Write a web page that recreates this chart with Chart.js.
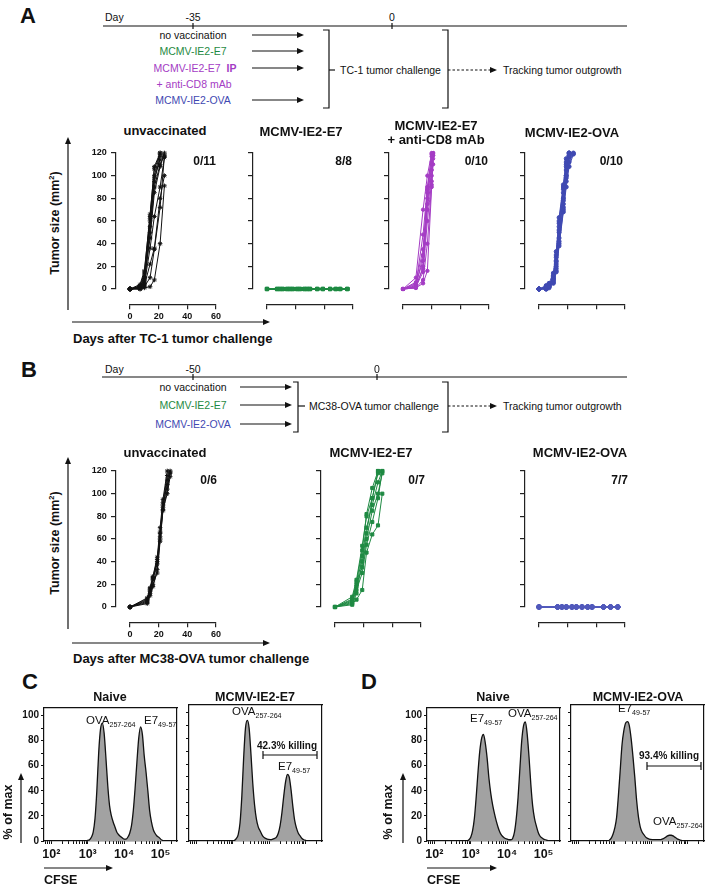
<!DOCTYPE html>
<html>
<head>
<meta charset="utf-8">
<script src="https://cdn.jsdelivr.net/npm/chart.js@4.4.1/dist/chart.umd.min.js"></script>
<style>
  body { margin: 0; background: #fff; }
  #fig { position: relative; width: 707px; height: 885px; overflow: hidden;
         font-family: 'Liberation Sans', Arial, Helvetica, sans-serif; color: #111; }
  .t { position: absolute; white-space: nowrap; line-height: 1; }
  .b { font-weight: bold; }
  canvas { position: absolute; }
  svg { position: absolute; left: 0; top: 0; }
  sub { font-size: 0.62em; vertical-align: -0.3em; }
</style>
</head>
<body>
<div id="fig"><svg id="ov" width="707" height="885"></svg></div>
<script>
// ---------- data ----------
const dayTicks = [0, 20, 40, 60];
const sizeTicks = [0, 20, 40, 60, 80, 100, 120];

// A: TC-1 challenge, tumor size (mm2) per mouse
const tc1UnvaxDays = [0, 7, 10, 14, 17, 21, 24];
const tc1Unvax = [
  [0, 2, 9, 62, 100, 120],
  [0, 3, 14, 66, 106, 119],
  [0, 1, 6, 55, 95, 117],
  [0, 2, 11, 60, 98, 114],
  [0, 4, 16, 64, 108, 120],
  [0, 1, 5, 50, 90, 110, 118],
  [0, 2, 8, 45, 85, 108, 120],
  [0, 1, 4, 36, 64, 90, 116],
  [0, 0, 3, 22, 36, 80, 100],
  [0, 0, 1, 2, 8, 40, 91],
  [0, 1, 2, 10, 35, 72, 117]
];
const tc1E7Days = [0, 7, 9, 11, 14, 16, 18, 21, 23, 26, 28, 30, 35, 39, 44, 48, 51, 56];
const tc1E7Mouse = [0, 0, 0, 0, 0, 0, 0, 0, 0, 0, 0, 0, 0, 0, 0, 0, 0, 0];
const tc1E7 = Array(8).fill(tc1E7Mouse);
const tc1Cd8Days = [0, 9, 14, 17, 20, 21];
const tc1Cd8 = [
  [0, 10, 70, 100, 120],
  [0, 4, 48, 90, 117],
  [0, 2, 30, 80, 110, 120],
  [0, 1, 20, 75, 105, 118],
  [0, 5, 25, 85, 112],
  [0, 3, 18, 70, 100, 118],
  [0, 2, 15, 60, 95, 115],
  [0, 1, 5, 16, 90, 120],
  [0, 1, 8, 40, 92, 110],
  [0, 6, 35, 88, 119]
];
const tc1OvaDays = [0, 5, 7, 10, 12, 14, 17, 19, 21, 24];
const tc1Ova = [
  [0, 1, 2, 8, 20, 45, 75, 100, 118],
  [0, 0, 3, 12, 30, 60, 90, 110, 120],
  [0, 2, 4, 10, 25, 50, 80, 105, 117],
  [0, 1, 2, 6, 18, 40, 70, 95, 112, 120],
  [0, 0, 1, 9, 22, 55, 85, 108, 120],
  [0, 3, 5, 14, 33, 63, 92, 115],
  [0, 1, 3, 7, 15, 38, 68, 90, 108, 119],
  [0, 2, 4, 11, 28, 52, 78, 100, 116],
  [0, 0, 2, 5, 16, 42, 72, 98, 118],
  [0, 1, 3, 9, 24, 58, 88, 112, 120]
];

// B: MC38-OVA challenge
const mcUnvaxDays = [0, 12, 14, 16, 19, 21, 23, 26, 28];
const mcUnvax = [
  [0, 5, 14, 24, 40, 62, 88, 112, 120],
  [0, 7, 16, 26, 42, 65, 90, 108, 118],
  [0, 4, 12, 20, 30, 58, 85, 104, 119],
  [0, 6, 15, 25, 38, 66, 92, 116],
  [0, 3, 10, 18, 33, 60, 86, 100, 115],
  [0, 8, 17, 27, 44, 70, 95, 120]
];
const mcE7Days = [0, 12, 15, 19, 22, 26, 30, 33];
const mcE7 = [
  [0, 9, 24, 54, 80, 96, 120],
  [0, 5, 18, 45, 70, 90, 110, 120],
  [0, 3, 6.5, 15, 48, 64, 72, 100],
  [0, 7, 22, 50, 82, 105, 120],
  [0, 2, 12, 40, 65, 96, 118],
  [0, 6, 20, 35, 60, 85, 100, 118],
  [0, 4, 15, 30, 55, 75, 96, 120]
];
const mcOvaDays = [0, 13, 16, 19, 23, 26, 30, 34, 37, 45, 50, 55];
const mcOvaMouse = [0, 0, 0, 0, 0, 0, 0, 0, 0, 0, 0, 0];
const mcOva = Array(7).fill(mcOvaMouse);

// C/D: CFSE histograms (log10 CFSE, % of max)
const cfseLog = [2.85, 2.90, 2.95, 3.00, 3.05, 3.10, 3.15, 3.20, 3.25, 3.30, 3.35, 3.40, 3.45,
  3.50, 3.55, 3.60, 3.65, 3.70, 3.75, 3.80, 3.85, 3.90, 3.95, 4.00, 4.05, 4.10, 4.15, 4.20,
  4.25, 4.30, 4.35, 4.40, 4.45, 4.50, 4.55, 4.60, 4.65, 4.70, 4.75, 4.80, 4.85, 4.90, 4.95,
  5.00, 5.05, 5.10, 5.15, 5.20, 5.25];
const cNaive = [0, 0, 0, 0.5, 1, 3, 7, 18, 40, 70, 89, 94, 86, 66, 44, 28, 20, 15, 11, 7,
  5, 3.5, 2.5, 1.5, 1.5, 3, 6, 12, 24, 42, 63, 82, 91, 85, 68, 55, 40, 24, 15, 9,
  6, 4, 3, 1.5, 0.5, 0, 0, 0, 0];
const cE7Vax = [0, 0, 0, 0, 0.5, 2, 5, 14, 35, 65, 88, 94, 88, 68, 45, 28, 17, 11, 8, 5,
  3, 2, 1.5, 1.2, 1, 1.5, 2, 3, 6, 12, 22, 35, 46, 52, 50, 40, 27, 16, 10, 6,
  4, 2, 1, 0.5, 0, 0, 0, 0, 0];
const dNaive = [0, 0, 1, 3, 8, 18, 35, 55, 72, 82, 85, 78, 66, 50, 38, 29, 22, 16, 11, 7,
  4.5, 3, 2, 1.5, 1, 1, 2, 7, 18, 35, 58, 80, 92, 95, 85, 67, 45, 28, 18, 12,
  7, 4, 2.5, 1.5, 1, 0.5, 0, 0, 0];
const dOvaVax = [0.5, 2, 5, 10, 18, 35, 55, 75, 86, 92, 93, 90, 80, 66, 50, 32, 19, 11, 7, 5,
  3, 2, 1.5, 1.2, 1, 1, 1, 1, 1, 1.5, 2, 3, 4, 4.5, 4.5, 4, 3, 2, 1.2, 0.7,
  0.3, 0, 0, 0, 0, 0, 0, 0, 0];
const decadeLabels = { 2: '10²', 3: '10³', 4: '10⁴', 5: '10⁵' };
const pctTicks = [0, 10, 20, 30, 40, 50, 60, 70, 80, 90, 100];
const pctLabels = [0, 20, 40, 60, 80, 100];

// ---------- helpers ----------
Chart.defaults.font.family = "'Liberation Sans', Arial, Helvetica, sans-serif";
const fig = document.getElementById('fig');
const ov = document.getElementById('ov');
const NS = 'http://www.w3.org/2000/svg';

function el(tag, attrs) {
  const e = document.createElementNS(NS, tag);
  for (const k in attrs) e.setAttribute(k, attrs[k]);
  ov.appendChild(e);
  return e;
}
function line(x1, y1, x2, y2, w = 1.2, dash) {
  const a = { x1, y1, x2, y2, stroke: '#111', 'stroke-width': w };
  if (dash) a['stroke-dasharray'] = dash;
  el('line', a);
}
function arrow(x1, y1, x2, y2, dash, hl = 7, hw = 3) {
  const dx = x2 - x1, dy = y2 - y1, L = Math.hypot(dx, dy), ux = dx / L, uy = dy / L;
  const bx = x2 - ux * hl, by = y2 - uy * hl;
  line(x1, y1, bx + ux, by + uy, 1.2, dash);
  el('polygon', { points: `${x2},${y2} ${bx - uy * hw},${by + ux * hw} ${bx + uy * hw},${by - ux * hw}`, fill: '#111' });
}
function path(d, w = 1.2) {
  el('path', { d, fill: 'none', stroke: '#111', 'stroke-width': w });
}
function txt(html, x, y, style = '', align = 'l', cls = '') {
  const d = document.createElement('div');
  d.className = 't ' + cls;
  d.innerHTML = html;
  const tx = align === 'c' ? '-50%' : align === 'r' ? '-100%' : '0';
  d.style.cssText = `left:${x}px;top:${y}px;transform:translate(${tx},-50%);${style}`;
  fig.appendChild(d);
  return d;
}
function vtxt(html, x, y, style = '') {
  const d = document.createElement('div');
  d.className = 't b';
  d.innerHTML = html;
  d.style.cssText = `left:${x}px;top:${y}px;transform:translate(-50%,-50%) rotate(-90deg);${style}`;
  fig.appendChild(d);
}
function makeCanvas(left, top, w, h) {
  const c = document.createElement('canvas');
  c.width = w; c.height = h;
  c.style.left = left + 'px'; c.style.top = top + 'px';
  c.style.width = w + 'px'; c.style.height = h + 'px';
  fig.appendChild(c);
  return c;
}

// tumor growth chart, Prism style (detached axes)
function tumorChart(x0, yTop, days, mice, color, style, radius, showLabels) {
  const c = makeCanvas(x0 - 45, yTop - 13, 156, 190);
  new Chart(c, {
    type: 'line',
    data: {
      datasets: mice.map(m => ({
        data: m.map((v, i) => ({ x: days[i], y: v })),
        borderColor: color,
        backgroundColor: color,
        borderWidth: 1,
        pointStyle: style,
        pointRadius: radius,
        pointBorderWidth: 1,
        tension: 0,
        clip: false
      }))
    },
    options: {
      responsive: false,
      animation: false,
      devicePixelRatio: 1,
      layout: { padding: { left: 45, right: 25, top: 13, bottom: 41 } },
      plugins: { legend: { display: false }, tooltip: { enabled: false } },
      scales: {
        x: {
          type: 'linear', min: 0, max: 60, position: { y: -14 },
          afterBuildTicks: s => { s.ticks = dayTicks.map(v => ({ value: v })); },
          border: { color: '#222', width: 1.2 },
          grid: { drawOnChartArea: false, tickLength: 4, color: '#222', lineWidth: 1.2 },
          ticks: { display: showLabels, padding: 2, color: '#111', maxRotation: 0,
                   font: { size: 9, weight: 'bold' } }
        },
        y: {
          type: 'linear', min: 0, max: 120, position: { x: -10 },
          afterBuildTicks: s => { s.ticks = sizeTicks.map(v => ({ value: v })); },
          border: { color: '#222', width: 1.2 },
          grid: { drawOnChartArea: false, tickLength: 4, color: '#222', lineWidth: 1.2 },
          ticks: { display: showLabels, color: '#111', font: { size: 9, weight: 'bold' },
                   callback: v => v + '\u2002\u2002' }
        }
      }
    }
  });
}

// CFSE histogram in a closed box
function histChart(boxLeft, values, showY, showX) {
  const c = makeCanvas(boxLeft - 40, 700, 176, 162);
  new Chart(c, {
    type: 'line',
    data: {
      datasets: [{
        data: cfseLog.map((x, i) => ({ x, y: values[i] })),
        fill: 'origin',
        backgroundColor: '#a2a2a2',
        borderColor: '#111',
        borderWidth: 1.3,
        pointRadius: 0,
        cubicInterpolationMode: 'monotone'
      }]
    },
    options: {
      responsive: false,
      animation: false,
      devicePixelRatio: 1,
      layout: { padding: 0 },
      plugins: { legend: { display: false }, tooltip: { enabled: false } },
      scales: {
        x: {
          type: 'linear', position: 'bottom', min: 1.8, max: 5.45,
          afterFit: s => { s.height = 21; },
          afterBuildTicks: s => {
            const t = [];
            for (let d = 1; d <= 5; d++) for (let k = 1; k <= 9; k++) {
              const v = d + Math.log10(k);
              if (v >= 1.8 && v <= 5.45) t.push({ value: k === 1 ? d : v });
            }
            s.ticks = t;
          },
          border: { color: '#111', width: 1.2 },
          grid: { drawOnChartArea: false, tickLength: 3, color: '#111' },
          ticks: { display: showX, autoSkip: false, maxRotation: 0, padding: 3, color: '#111',
                   font: { size: 12.5, weight: 'bold' }, callback: v => decadeLabels[v] || '' }
        },
        y: {
          type: 'linear', position: 'left', min: 0, max: 106,
          afterFit: s => { s.width = 40; },
          afterBuildTicks: s => { s.ticks = pctTicks.map(v => ({ value: v })); },
          border: { color: '#111', width: 1.2 },
          grid: { drawOnChartArea: false, tickLength: 3, color: '#111' },
          ticks: { display: showY, autoSkip: false, padding: 2, color: '#111',
                   font: { size: 10, weight: 'bold' },
                   callback: v => pctLabels.includes(v) ? v : '' }
        },
        x2: {
          type: 'linear', position: 'top', afterFit: s => { s.height = 5; },
          grid: { display: false }, ticks: { display: false },
          border: { color: '#111', width: 1.2 }
        },
        y2: {
          type: 'linear', position: 'right', afterFit: s => { s.width = 3; },
          grid: { display: false }, ticks: { display: false },
          border: { color: '#111', width: 1.2 }
        }
      }
    }
  });
}

// ---------- colours ----------
const GREEN = '#1f8a43', MAG = '#a43cc4', BLUE = '#3f49b2', BLUE_B = '#5159bb';

// ---------- panel A schema ----------
txt('A', 20, 16, 'font-size:22px', 'l', 'b');
const S = 'font-size:10.5px';
txt('Day', 105, 17, S);
txt('-35', 193, 17, S, 'c');
txt('0', 392, 17, S, 'c');
line(103, 26, 627, 26);
line(193, 23, 193, 29); line(392, 23, 392, 29);
txt('no vaccination', 193, 35, S, 'c');
txt('MCMV-IE2-E7', 193, 51, S + ';color:' + GREEN, 'c');
txt('MCMV-IE2-E7&nbsp;&nbsp;<b>IP</b>', 195, 68, S + ';color:' + MAG, 'c');
txt('+ anti-CD8 mAb', 194, 84, S + ';color:' + MAG, 'c');
txt('MCMV-IE2-OVA', 193, 100, S + ';color:' + BLUE, 'c');
[35, 51, 68, 100].forEach(y => arrow(252, y, 304, y));
path('M323,30 H329 V108 H323'); line(329, 70, 335, 70);
txt('TC-1 tumor challenge', 340, 70, S);
path('M442,30 H448 V108 H442');
arrow(448, 70, 497, 70, '2.5,2');
txt('Tracking tumor outgrowth', 503, 70, S);

// ---------- panel A charts ----------
tumorChart(130, 153, tc1UnvaxDays, tc1Unvax, '#111', 'star', 2.3, true);
tumorChart(267, 153, tc1E7Days, tc1E7, GREEN, 'rect', 2.2, false);
tumorChart(403, 153, tc1Cd8Days, tc1Cd8, MAG, 'circle', 1.7, false);
tumorChart(539, 153, tc1OvaDays, tc1Ova, BLUE, 'circle', 2, false);

const TT = 'font-size:13px';
txt('unvaccinated', 165, 130, TT, 'c', 'b');
txt('MCMV-IE2-E7', 301, 131, TT, 'c', 'b');
txt('MCMV-IE2-E7', 436, 125, TT, 'c', 'b');
txt('+ anti-CD8 mAb', 436, 139, TT, 'c', 'b');
txt('MCMV-IE2-OVA', 572, 132, TT, 'c', 'b');
const FR = 'font-size:12px';
txt('0/11', 216, 161, FR, 'r', 'b');
txt('8/8', 352, 161, FR, 'r', 'b');
txt('0/10', 488, 161, FR, 'r', 'b');
txt('0/10', 623, 161, FR, 'r', 'b');
vtxt('Tumor size (mm<sup style="font-size:0.6em">2</sup>)', 55, 223, 'font-size:12.5px');
arrow(68, 310, 68, 137);
arrow(72, 322, 270, 322);
txt('Days after TC-1 tumor challenge', 73, 338, TT, 'l', 'b');

// ---------- panel B schema ----------
txt('B', 21, 370, 'font-size:22px', 'l', 'b');
txt('Day', 105, 369, S);
txt('-50', 193, 369, S, 'c');
txt('0', 377, 369, S, 'c');
line(102, 377, 627, 377);
line(193, 374, 193, 380); line(377, 374, 377, 380);
txt('no vaccination', 193, 387, S, 'c');
txt('MCMV-IE2-E7', 193, 405, S + ';color:' + GREEN, 'c');
txt('MCMV-IE2-OVA', 193, 424, S + ';color:' + BLUE, 'c');
[387, 405, 424].forEach(y => arrow(240, y, 292, y));
path('M293,382 H298 V432 H293'); line(298, 406, 305, 406);
txt('MC38-OVA tumor challenge', 309, 406, S);
path('M442,382 H448 V432 H442');
arrow(448, 406, 497, 406, '2.5,2');
txt('Tracking tumor outgrowth', 503, 406, S);

// ---------- panel B charts ----------
tumorChart(130, 471, mcUnvaxDays, mcUnvax, '#111', 'star', 2.3, true);
tumorChart(335, 471, mcE7Days, mcE7, GREEN, 'rect', 2.2, false);
tumorChart(539, 471, mcOvaDays, mcOva, BLUE_B, 'circle', 2.2, false);

txt('unvaccinated', 165, 452, TT, 'c', 'b');
txt('MCMV-IE2-E7', 371, 452, TT, 'c', 'b');
txt('MCMV-IE2-OVA', 580, 452, TT, 'c', 'b');
txt('0/6', 217, 480, FR, 'r', 'b');
txt('0/7', 425, 480, FR, 'r', 'b');
txt('7/7', 628, 480, FR, 'r', 'b');
vtxt('Tumor size (mm<sup style="font-size:0.6em">2</sup>)', 55, 543, 'font-size:12.5px');
arrow(68, 629, 68, 457);
arrow(72, 643, 270, 643);
txt('Days after MC38-OVA tumor challenge', 73, 658, TT, 'l', 'b');

// ---------- panels C and D ----------
txt('C', 22, 682, 'font-size:22px', 'l', 'b');
txt('D', 361, 682, 'font-size:22px', 'l', 'b');
histChart(44, cNaive, true, true);
histChart(189, cE7Vax, false, false);
histChart(427, dNaive, true, true);
histChart(571, dOvaVax, false, false);

const HT = 'font-size:12.5px';
txt('Naive', 110, 697, HT, 'c', 'b');
txt('MCMV-IE2-E7', 255, 697, HT, 'c', 'b');
txt('Naive', 493, 697, HT, 'c', 'b');
txt('MCMV-IE2-OVA', 638, 697, HT, 'c', 'b');

const PK = 'font-size:11.5px';
txt('OVA<sub>257-264</sub>', 86, 722, PK);
txt('E7<sub>49-57</sub>', 144, 722, PK);
txt('OVA<sub>257-264</sub>', 232, 713, PK);
txt('42.3% killing', 257, 746, 'font-size:10px', 'l', 'b');
line(263, 755, 317, 755); line(263, 751, 263, 759); line(317, 751, 317, 759);
txt('E7<sub>49-57</sub>', 278, 768, PK);

txt('E7<sub>49-57</sub>', 470, 720, PK);
txt('OVA<sub>257-264</sub>', 508, 715, PK);
txt('E7<sub>49-57</sub>', 618, 710, PK);
txt('93.4% killing', 639, 756, 'font-size:10px', 'l', 'b');
line(647, 766, 701, 766); line(647, 762, 647, 770); line(701, 762, 701, 770);
txt('OVA<sub>257-264</sub>', 653, 823, PK);

vtxt('% of max', 8, 812, 'font-size:12.5px');
arrow(21, 843, 21, 773);
vtxt('% of max', 388, 812, 'font-size:12.5px');
arrow(403, 843, 403, 773);
arrow(44, 868, 113, 868);
arrow(427, 868, 497, 868);
txt('CFSE', 44, 880, HT, 'l', 'b');
txt('CFSE', 427, 880, HT, 'l', 'b');
</script>
</body>
</html>
